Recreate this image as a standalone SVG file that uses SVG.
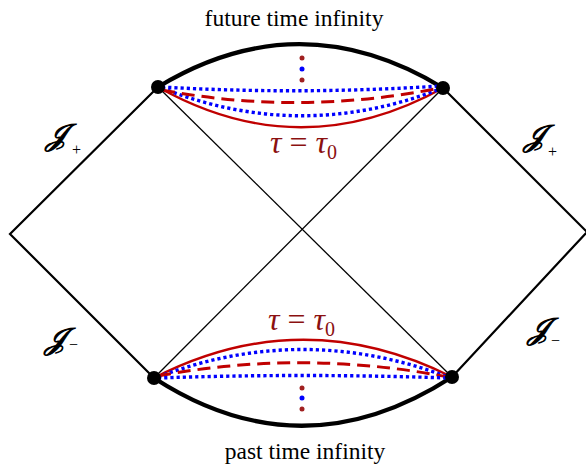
<svg xmlns="http://www.w3.org/2000/svg" width="586" height="468" viewBox="0 0 586 468">
<style>
.edge{fill:none;stroke:#000;stroke-width:2.2;stroke-linecap:round}
.diag{fill:none;stroke:#000;stroke-width:1.3}
.inf{fill:none;stroke:#000;stroke-width:4.2}
.red{fill:none;stroke:#c00000;stroke-width:2.4}
.dash{fill:none;stroke:#c00000;stroke-width:3;stroke-dasharray:13,7}
.dot{fill:none;stroke:#0000ff;stroke-width:3.4;stroke-dasharray:3.2,3}
.lbl{font-family:"Liberation Serif","DejaVu Serif",serif;font-size:23.5px;fill:#000;text-anchor:middle}
.tau{font-family:"Liberation Serif","DejaVu Serif",serif;font-style:italic;font-size:32px;fill:#8b1010}
.scri{font-family:"DejaVu Serif","Noto Sans",serif;font-style:italic;font-size:30px;fill:#000;stroke:#000;stroke-width:1.1}
.sub{font-family:"Liberation Serif",serif;font-size:16px;fill:#000}
</style>
<g id="connectors">
<path class="edge" d="M158,87 L10,234 L154,378"/>
<path class="edge" d="M443,88 L587,232 L452,377"/>
<path class="diag" d="M158,87 L452,377"/>
<path class="diag" d="M443,88 L154,378"/>
<path class="inf" d="M158,87 Q300,1 443,88"/>
<path class="inf" d="M154,378 Q302,474 452,377"/>
<path class="red" d="M158,87 Q300,167 443,88"/>
<path class="dot" d="M162,88 Q300,143 440,89"/>
<path class="dash" d="M162,90 Q300,116 440,88"/>
<path class="dot" d="M162,87 Q300,95 440,86"/>
<path class="red" d="M154,378 Q302,302 452,377"/>
<path class="dot" d="M158,377 Q302,322 448,377"/>
<path class="dash" d="M158,376 Q302,349 448,377"/>
<path class="dot" d="M158,378 Q302,373 448,378"/>
</g>
<g id="future-dots">
<circle cx="302" cy="58" r="2.5" fill="#a02020"/>
<circle cx="302" cy="69" r="2.5" fill="#0000ff"/>
<circle cx="302" cy="80" r="2.5" fill="#a02020"/>
</g>
<g id="past-dots">
<circle cx="302" cy="388" r="2.5" fill="#a02020"/>
<circle cx="302" cy="398" r="2.5" fill="#0000ff"/>
<circle cx="302" cy="409" r="2.5" fill="#a02020"/>
</g>
<g id="node-top-left"><circle cx="158" cy="87" r="7" fill="#000"/></g>
<g id="node-top-right"><circle cx="443" cy="88" r="7" fill="#000"/></g>
<g id="node-bottom-left"><circle cx="154" cy="378" r="7" fill="#000"/></g>
<g id="node-bottom-right"><circle cx="452" cy="377" r="7" fill="#000"/></g>
<g id="label-future"><text class="lbl" x="294" y="26">future time infinity</text></g>
<g id="label-past"><text class="lbl" x="305" y="459">past time infinity</text></g>
<g id="label-tau-top"><text class="tau" x="270" y="153">τ <tspan font-style="normal">=</tspan> τ<tspan font-style="normal" font-size="20" dy="6">0</tspan></text></g>
<g id="label-tau-bottom"><text class="tau" x="268" y="330">τ <tspan font-style="normal">=</tspan> τ<tspan font-style="normal" font-size="20" dy="6">0</tspan></text></g>
<g id="scri-left-plus"><text class="scri" x="46" y="145">𝒥</text><text class="sub" x="72" y="155">+</text></g>
<g id="scri-left-minus"><text class="scri" x="45" y="349">𝒥</text><text class="sub" x="69" y="350">−</text></g>
<g id="scri-right-plus"><text class="scri" x="524" y="146">𝒥</text><text class="sub" x="548" y="157">+</text></g>
<g id="scri-right-minus"><text class="scri" x="528" y="339">𝒥</text><text class="sub" x="551" y="346">−</text></g>
</svg>
